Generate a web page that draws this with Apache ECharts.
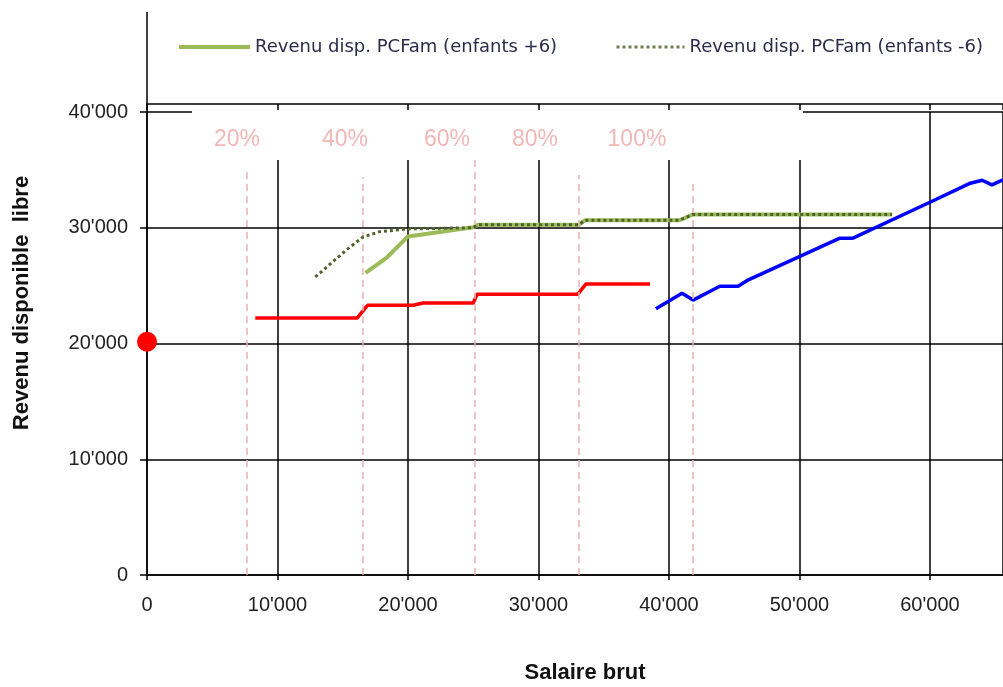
<!DOCTYPE html>
<html>
<head>
<meta charset="utf-8">
<script src="https://cdn.jsdelivr.net/npm/echarts@6/dist/echarts.min.js"></script>
<style>
  html, body { margin: 0; padding: 0; background: #fff; }
  #chart { width: 1003px; height: 687px; }
</style>
</head>
<body>
<div id="chart"></div>
<script>
// Revenu disponible libre selon le salaire brut
const seriesNameEnfantsPlus6 = 'Revenu disp. PCFam (enfants +6)';
const seriesNameEnfantsMoins6 = 'Revenu disp. PCFam (enfants -6)';

// [salaire brut, revenu disponible libre]
const pcfamEnfantsPlus6 = [
  [16750, 26100], [18400, 27450], [20000, 29250], [25000, 30050], [25350, 30250],
  [33100, 30250], [33550, 30650], [40800, 30650], [41850, 31150], [57100, 31150]
];
const pcfamEnfantsMoins6 = [
  [12900, 25750], [15300, 28100], [16550, 29200], [17800, 29650], [20000, 29900],
  [25000, 30000], [25350, 30250], [33100, 30250], [33550, 30650], [40800, 30650],
  [41850, 31150], [57100, 31150]
];
const revenuRouge = [
  [8300, 22200], [16100, 22200], [16900, 23300], [20400, 23300], [21150, 23500],
  [25000, 23500], [25300, 24250], [33000, 24250], [33650, 25150], [38550, 25150]
];
const revenuBleu = [
  [39000, 23000], [41000, 24350], [41850, 23750], [43900, 24950], [45300, 24950],
  [46000, 25450], [53100, 29100], [54100, 29100], [60000, 32200], [63100, 33850],
  [64000, 34100], [64750, 33700], [65600, 34150]
];
const pointSansSalaire = [[0, 20150]];

// Seuils de salaire (lignes pointillées roses) et parts correspondantes
const shareLabels = ['20%', '40%', '60%', '80%', '100%'];
const shareThresholds = [7660, 16550, 25130, 33100, 41840];
const shareLineTops = [35000, 34380, 35850, 34560, 34040];

const xTicks = { min: 0, max: 65600, interval: 10000 };
const yTicks = { min: 0, max: 40000, interval: 10000 };

const fmt = v => {
  const s = String(Math.round(v));
  return s.replace(/\B(?=(\d{3})+(?!\d))/g, "'");
};

const chart = echarts.init(document.getElementById('chart'), null, { renderer: 'canvas' });

const thresholdLines = shareThresholds.map((x, i) => [
  { coord: [x, 0] }, { coord: [x, shareLineTops[i]] }
]);

const tickFont = { fontFamily: 'Liberation Sans, Arial, sans-serif', fontSize: 20, color: '#222' };
const legendFont = { fontFamily: 'DejaVu Sans, sans-serif', fontSize: 18, color: '#2a2a4a' };
// légende : trait seul, sans symbole
const noSymbol = { color: 'rgba(0,0,0,0)', borderColor: 'rgba(0,0,0,0)', borderWidth: 0 };

const option = {
  animation: false,
  backgroundColor: '#fff',
  grid: { left: 147, right: 0, top: 112, bottom: 112, containLabel: false },
  legend: [
    {
      data: [seriesNameEnfantsPlus6], left: 172, top: 33,
      itemWidth: 71, itemHeight: 20, itemGap: 10,
      itemStyle: noSymbol,
      lineStyle: { width: 4, color: '#9bbb59' },
      textStyle: legendFont
    },
    {
      data: [seriesNameEnfantsMoins6], left: 610, top: 33,
      itemWidth: 68, itemHeight: 20, itemGap: 10,
      itemStyle: noSymbol,
      lineStyle: { width: 3, color: '#6f7d55', type: [3, 3] },
      textStyle: legendFont
    }
  ],
  xAxis: [
    {
      type: 'value', min: xTicks.min, max: xTicks.max, interval: xTicks.interval,
      axisLine: { show: true, onZero: false, lineStyle: { color: '#000', width: 1.5 } },
      axisTick: { show: true, length: 5, lineStyle: { color: '#000', width: 1.5 } },
      axisLabel: Object.assign({ margin: 20, formatter: fmt, showMaxLabel: false }, tickFont),
      splitLine: { show: true, lineStyle: { color: '#000', width: 1.5 } }
    },
    {
      type: 'value', position: 'top', offset: 8,
      min: xTicks.min, max: xTicks.max, interval: xTicks.interval,
      axisLine: { show: true, onZero: false, lineStyle: { color: '#000', width: 1.5 } },
      axisTick: { show: true, inside: true, length: 6, lineStyle: { color: '#000', width: 1.5 } },
      axisLabel: { show: false },
      splitLine: { show: false }
    }
  ],
  yAxis: {
    type: 'value', min: yTicks.min, max: yTicks.max, interval: yTicks.interval,
    axisLine: { show: true, onZero: false, lineStyle: { color: '#000', width: 1.5 } },
    axisTick: { show: true, length: 7, lineStyle: { color: '#000', width: 1.5 } },
    axisLabel: Object.assign({ margin: 19, formatter: fmt }, tickFont),
    splitLine: { show: true, lineStyle: { color: '#000', width: 1.5 } }
  },
  series: [
    {
      name: 'seuils', type: 'line', data: [], silent: true, z: 1,
      markLine: {
        silent: true, symbol: 'none', animation: false,
        label: { show: false },
        lineStyle: { color: '#eeb3b3', width: 1.5, type: [7, 5] },
        data: thresholdLines
      }
    },
    {
      name: 'revenuRouge', type: 'line', data: revenuRouge, symbol: 'none', z: 3,
      lineStyle: { color: '#ff0000', width: 3.5 }, itemStyle: { color: '#ff0000' }
    },
    {
      name: 'revenuBleu', type: 'line', data: revenuBleu, symbol: 'none', z: 3,
      lineStyle: { color: '#0000ff', width: 3.5 }, itemStyle: { color: '#0000ff' }
    },
    {
      name: seriesNameEnfantsPlus6, type: 'line', data: pcfamEnfantsPlus6, symbol: 'none', z: 4,
      lineStyle: { color: '#9bbb59', width: 4 }, itemStyle: { color: '#9bbb59' }
    },
    {
      name: seriesNameEnfantsMoins6, type: 'line', data: pcfamEnfantsMoins6, symbol: 'none', z: 5,
      lineStyle: { color: '#4f6228', width: 3, type: [3, 3] }, itemStyle: { color: '#4f6228' }
    },
    {
      name: 'pointSansSalaire', type: 'scatter', data: pointSansSalaire, z: 6,
      symbolSize: 20, itemStyle: { color: '#ff0000', opacity: 1 }
    }
  ]
};

chart.setOption(option);

// Cadre de la légende, cache blanc sous les étiquettes de parts, titres d'axes
const px = (x, y) => chart.convertToPixel({ gridIndex: 0 }, [x, y]);
const topLeft = px(3450, 40000);
const bottomRight = px(50270, 35850);
const axisTop = px(0, 40000);

const shareLabelX = [6900, 15170, 22990, 29730, 37550];
const shareTexts = shareLabels.map((t, i) => {
  const p = px(shareLabelX[i], 37600);
  return {
    type: 'text', z: 10, x: p[0], y: p[1],
    style: {
      text: t, align: 'center', verticalAlign: 'middle',
      fontFamily: 'Liberation Sans, Arial, sans-serif', fontSize: 23, fill: '#f1b7b7'
    }
  };
});

chart.setOption({
  graphic: [
    {
      type: 'rect', z: 1, silent: true,
      shape: {
        x: topLeft[0], y: topLeft[1] - 2,
        width: bottomRight[0] - topLeft[0], height: bottomRight[1] - topLeft[1] + 2
      },
      style: { fill: '#fff' }
    },
    {
      type: 'line', z: 1, silent: true,
      shape: { x1: axisTop[0], y1: 12, x2: axisTop[0], y2: axisTop[1] },
      style: { stroke: '#000', lineWidth: 1.5 }
    },
    ...shareTexts,
    {
      type: 'text', z: 10, x: 22, y: 303, rotation: Math.PI / 2,
      style: {
        text: 'Revenu disponible  libre', align: 'center', verticalAlign: 'middle',
        fontFamily: 'Liberation Sans, Arial, sans-serif', fontSize: 22, fontWeight: 'bold', fill: '#111'
      }
    },
    {
      type: 'text', z: 10, x: 585, y: 673,
      style: {
        text: 'Salaire brut', align: 'center', verticalAlign: 'middle',
        fontFamily: 'Liberation Sans, Arial, sans-serif', fontSize: 22, fontWeight: 'bold', fill: '#111'
      }
    }
  ]
});
</script>
</body>
</html>
